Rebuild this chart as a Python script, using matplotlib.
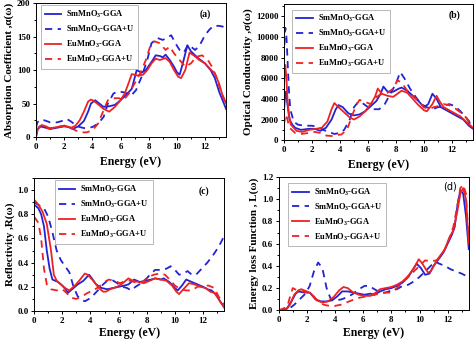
import numpy as np
import matplotlib
matplotlib.use("Agg")
import matplotlib.pyplot as plt
from matplotlib.ticker import MultipleLocator

plt.rcParams['font.family'] = ['Liberation Serif', 'DejaVu Serif']
plt.rcParams['font.weight'] = 'bold'
plt.rcParams['mathtext.default'] = 'regular'

BLUE = '#2222d6'
RED = '#ee2222'
labels = ['SmMnO$_3$-GGA', 'SmMnO$_3$-GGA+U', 'EuMnO$_3$-GGA', 'EuMnO$_3$-GGA+U']

# ---------------- (a) absorption coefficient ----------------
a_sm_x = [0, 0.1, 0.25, 0.5, 1.0, 1.5, 2.0, 2.3, 2.6, 3.0, 3.4, 3.7, 3.9, 4.2, 4.5, 4.8, 5.2, 5.6, 6.0, 6.4, 6.8, 7.0, 7.15, 7.5, 7.8, 8.2, 8.5, 8.8, 9.0, 9.2, 9.5, 9.8, 10.0, 10.2, 10.45, 10.75, 11.0, 11.5, 12.0, 12.4, 12.7, 13.0, 13.25, 13.5]
a_sm_y = [0, 10, 16, 15, 12, 14, 16, 15, 12, 16, 24, 38, 50, 55, 50, 45, 46, 48, 55, 63, 72, 88, 100, 96, 100, 112, 122, 121, 119, 123, 115, 105, 97, 93, 112, 137, 128, 118, 110, 100, 88, 68, 55, 42]
a_eu_x = [0, 0.1, 0.4, 0.7, 1.0, 1.5, 2.0, 2.2, 2.5, 2.8, 3.1, 3.4, 3.7, 3.9, 4.1, 4.4, 4.8, 5.2, 5.6, 6.0, 6.3, 6.6, 6.8, 7.2, 7.6, 7.9, 8.2, 8.5, 8.8, 9.2, 9.5, 9.8, 10.1, 10.3, 10.6, 10.9, 11.2, 11.6, 12.0, 12.4, 12.7, 13.0, 13.25, 13.5]
a_eu_y = [0, 12, 18, 16, 13, 15, 17, 16, 14, 17, 25, 38, 53, 56, 54, 49, 42, 38, 45, 55, 65, 82, 94, 92, 93, 100, 110, 117, 115, 118, 112, 100, 90, 88, 100, 126, 122, 115, 110, 101, 95, 80, 62, 50]
a_smu_x = [0, 0.1, 0.3, 0.6, 1.0, 1.5, 2.0, 2.2, 2.5, 2.8, 3.1, 3.5, 4.0, 4.4, 4.8, 5.1, 5.5, 5.8, 6.2, 6.5, 6.8, 7.1, 7.5, 7.9, 8.2, 8.6, 9.0, 9.3, 9.6, 9.9, 10.2, 10.5, 10.8, 11.0, 11.3, 11.6, 12.0, 12.3, 12.6, 13.0, 13.25, 13.5]
a_smu_y = [14, 22, 26, 25, 22, 22, 25, 27, 23, 18, 15, 13, 15, 20, 30, 50, 65, 68, 67, 65, 63, 70, 90, 115, 140, 148, 145, 148, 152, 140, 130, 126, 138, 135, 130, 136, 152, 160, 166, 166, 165, 162]
a_euu_x = [0, 0.1, 0.3, 0.6, 1.0, 1.5, 2.0, 2.4, 2.8, 3.2, 3.6, 4.0, 4.4, 4.8, 5.1, 5.5, 5.9, 6.2, 6.6, 7.0, 7.4, 7.8, 8.1, 8.4, 8.8, 9.2, 9.5, 9.8, 10.2, 10.6, 11.0, 11.4, 11.8, 12.2, 12.5, 12.8, 13.1, 13.5]
a_euu_y = [8, 12, 15, 14, 13, 15, 17, 15, 10, 7, 7, 10, 20, 40, 55, 58, 58, 55, 65, 80, 95, 115, 135, 143, 140, 130, 135, 125, 115, 105, 110, 120, 122, 115, 105, 90, 70, 50]

# ---------------- (b) optical conductivity ----------------
b_sm_x = [0, 0.08, 0.15, 0.25, 0.4, 0.6, 0.8, 1.2, 1.8, 2.2, 2.6, 3.0, 3.4, 3.7, 3.9, 4.2, 4.6, 5.0, 5.4, 5.8, 6.2, 6.6, 6.9, 7.1, 7.4, 7.8, 8.2, 8.4, 8.8, 9.2, 9.6, 10.0, 10.3, 10.6, 10.9, 11.2, 11.6, 12.0, 12.4, 12.8, 13.2, 13.5]
b_sm_y = [2800, 4200, 4700, 3500, 2000, 1500, 1200, 1000, 1100, 1100, 900, 1200, 2000, 3000, 3400, 3200, 2600, 2400, 2500, 2800, 3300, 3800, 4500, 5200, 4700, 4700, 5000, 5100, 4800, 4300, 3800, 3200, 3500, 4500, 4000, 3200, 2900, 2600, 2300, 2000, 1400, 1100]
b_eu_x = [0, 0.05, 0.1, 0.18, 0.25, 0.35, 0.5, 0.9, 1.3, 1.8, 2.3, 2.7, 3.1, 3.4, 3.6, 3.9, 4.3, 4.7, 5.0, 5.4, 5.8, 6.2, 6.5, 6.7, 7.0, 7.4, 7.8, 8.1, 8.4, 8.8, 9.2, 9.6, 10.0, 10.2, 10.6, 10.9, 11.1, 11.4, 11.8, 12.2, 12.6, 13.0, 13.5]
b_eu_y = [5000, 6800, 7300, 6000, 4000, 2500, 1500, 900, 800, 1000, 1100, 1200, 1800, 3000, 3600, 3200, 2700, 2200, 2000, 2300, 2800, 3500, 4200, 5000, 4500, 4300, 4200, 4500, 4800, 4600, 4000, 3400, 2900, 2800, 3500, 4300, 3800, 3200, 2900, 2600, 2300, 1800, 1200]
b_smu_x = [0, 0.05, 0.1, 0.18, 0.25, 0.35, 0.45, 0.7, 1.0, 1.5, 2.0, 2.4, 2.8, 3.2, 3.6, 4.0, 4.3, 4.7, 5.0, 5.3, 5.6, 6.0, 6.4, 6.8, 7.2, 7.6, 8.0, 8.3, 8.6, 9.0, 9.4, 9.8, 10.2, 10.6, 11.0, 11.4, 11.8, 12.2, 12.6, 13.0, 13.5]
b_smu_y = [8000, 10000, 10900, 10000, 8000, 5000, 3000, 1800, 1500, 1400, 1400, 1300, 1000, 800, 600, 700, 1000, 2000, 3200, 3700, 3600, 3200, 3000, 3000, 3500, 4500, 5500, 6600, 6000, 5000, 4200, 3500, 3200, 3000, 3200, 3300, 3500, 3300, 2800, 2200, 1200]
b_euu_x = [0, 0.08, 0.15, 0.25, 0.4, 0.8, 1.2, 1.8, 2.2, 2.6, 3.0, 3.4, 3.8, 4.1, 4.5, 4.9, 5.2, 5.4, 5.8, 6.2, 6.6, 7.0, 7.4, 7.8, 8.1, 8.4, 8.8, 9.2, 9.6, 10.0, 10.3, 10.7, 11.0, 11.4, 11.8, 12.2, 12.6, 13.0, 13.5]
b_euu_y = [1500, 2200, 2500, 2000, 1200, 700, 600, 700, 800, 700, 450, 400, 500, 550, 1000, 2500, 3500, 3900, 3700, 3500, 4200, 4500, 4600, 5000, 5800, 5600, 4800, 4300, 3800, 3200, 3000, 3200, 3300, 3500, 3400, 3100, 2700, 2200, 1400]

# ---------------- (c) reflectivity ----------------
c_sm_x = [0, 0.3, 0.5, 0.7, 0.9, 1.1, 1.3, 1.7, 2.0, 2.3, 2.4, 2.7, 3.1, 3.5, 3.9, 4.1, 4.4, 4.8, 5.2, 5.6, 6.0, 6.4, 6.7, 7.1, 7.5, 7.9, 8.3, 8.6, 9.0, 9.2, 9.6, 10.0, 10.2, 10.5, 10.8, 11.2, 11.6, 12.0, 12.3, 12.6, 12.9, 13.2, 13.5]
c_sm_y = [0.88, 0.85, 0.8, 0.7, 0.5, 0.35, 0.26, 0.24, 0.21, 0.17, 0.15, 0.18, 0.22, 0.25, 0.30, 0.27, 0.22, 0.19, 0.18, 0.19, 0.20, 0.21, 0.22, 0.26, 0.24, 0.25, 0.26, 0.27, 0.26, 0.27, 0.24, 0.19, 0.17, 0.21, 0.26, 0.24, 0.22, 0.20, 0.18, 0.17, 0.14, 0.08, 0.03]
c_eu_x = [0, 0.3, 0.6, 0.9, 1.2, 1.4, 1.6, 1.9, 2.2, 2.5, 2.9, 3.2, 3.6, 3.8, 4.2, 4.6, 4.9, 5.1, 5.4, 5.9, 6.3, 6.7, 7.0, 7.4, 7.8, 8.2, 8.6, 9.0, 9.4, 9.8, 10.1, 10.3, 10.6, 11.0, 11.4, 11.8, 12.2, 12.5, 12.8, 13.1, 13.5]
c_eu_y = [0.92, 0.88, 0.82, 0.72, 0.5, 0.3, 0.25, 0.22, 0.19, 0.17, 0.21, 0.25, 0.31, 0.30, 0.25, 0.19, 0.16, 0.16, 0.18, 0.20, 0.23, 0.27, 0.25, 0.24, 0.23, 0.25, 0.27, 0.26, 0.25, 0.21, 0.16, 0.14, 0.18, 0.23, 0.22, 0.20, 0.19, 0.16, 0.15, 0.10, 0.03]
c_smu_x = [0, 0.4, 0.7, 1.0, 1.3, 1.6, 1.9, 2.2, 2.5, 2.8, 3.1, 3.4, 3.6, 3.9, 4.2, 4.6, 4.9, 5.2, 5.5, 5.9, 6.3, 6.6, 6.9, 7.2, 7.6, 8.0, 8.3, 8.6, 9.0, 9.4, 9.7, 10.0, 10.3, 10.6, 10.9, 11.2, 11.5, 11.9, 12.3, 12.7, 13.1, 13.5]
c_smu_y = [0.90, 0.87, 0.85, 0.78, 0.65, 0.5, 0.42, 0.37, 0.32, 0.2, 0.12, 0.09, 0.08, 0.10, 0.13, 0.18, 0.22, 0.25, 0.26, 0.23, 0.20, 0.19, 0.17, 0.20, 0.23, 0.27, 0.31, 0.34, 0.34, 0.35, 0.37, 0.34, 0.30, 0.31, 0.33, 0.30, 0.30, 0.35, 0.40, 0.46, 0.53, 0.62]
c_euu_x = [0, 0.3, 0.5, 0.7, 0.9, 1.2, 1.6, 2.0, 2.3, 2.6, 3.0, 3.4, 3.8, 4.2, 4.6, 5.0, 5.3, 5.7, 6.1, 6.5, 6.9, 7.3, 7.7, 8.1, 8.5, 8.9, 9.3, 9.7, 10.0, 10.4, 10.8, 11.2, 11.6, 12.0, 12.4, 12.8, 13.1, 13.5]
c_euu_y = [0.78, 0.73, 0.6, 0.35, 0.22, 0.18, 0.17, 0.18, 0.15, 0.11, 0.10, 0.12, 0.15, 0.17, 0.20, 0.24, 0.26, 0.25, 0.23, 0.25, 0.25, 0.23, 0.24, 0.28, 0.30, 0.31, 0.30, 0.25, 0.21, 0.18, 0.17, 0.17, 0.20, 0.21, 0.21, 0.19, 0.12, 0.05]

# ---------------- (d) energy loss function ----------------
d_sm_x = [0, 0.4, 0.6, 0.9, 1.2, 1.4, 1.8, 2.2, 2.6, 3.0, 3.4, 3.8, 4.2, 4.5, 4.9, 5.3, 5.7, 6.1, 6.5, 6.8, 7.2, 7.6, 8.0, 8.4, 8.8, 9.2, 9.5, 9.8, 10.1, 10.4, 10.7, 11.0, 11.3, 11.7, 12.0, 12.3, 12.5, 12.7, 12.9, 13.1, 13.3, 13.5]
d_sm_y = [0, 0, 0.02, 0.08, 0.15, 0.17, 0.16, 0.16, 0.10, 0.08, 0.08, 0.09, 0.13, 0.17, 0.17, 0.16, 0.15, 0.14, 0.15, 0.14, 0.17, 0.19, 0.20, 0.22, 0.25, 0.30, 0.36, 0.42, 0.38, 0.32, 0.33, 0.40, 0.45, 0.52, 0.60, 0.68, 0.75, 0.95, 1.08, 1.05, 0.85, 0.55]
d_eu_x = [0, 0.5, 0.8, 1.1, 1.4, 1.6, 2.0, 2.3, 2.7, 3.1, 3.5, 3.9, 4.3, 4.6, 4.9, 5.3, 5.7, 6.1, 6.5, 6.9, 7.2, 7.6, 8.0, 8.4, 8.8, 9.2, 9.6, 9.95, 10.2, 10.6, 10.8, 11.1, 11.4, 11.8, 12.1, 12.4, 12.7, 12.9, 13.1, 13.3, 13.5]
d_eu_y = [0, 0, 0.05, 0.14, 0.18, 0.19, 0.17, 0.15, 0.09, 0.07, 0.08, 0.12, 0.18, 0.21, 0.20, 0.16, 0.14, 0.13, 0.13, 0.16, 0.19, 0.20, 0.21, 0.23, 0.26, 0.31, 0.38, 0.46, 0.42, 0.34, 0.35, 0.42, 0.48, 0.55, 0.65, 0.72, 0.90, 1.05, 1.10, 1.00, 0.60]
d_smu_x = [0, 0.5, 0.8, 1.1, 1.5, 1.9, 2.2, 2.5, 2.8, 3.1, 3.4, 3.7, 4.1, 4.5, 4.9, 5.3, 5.7, 6.1, 6.4, 6.8, 7.2, 7.6, 8.0, 8.4, 8.8, 9.2, 9.6, 10.0, 10.4, 10.8, 11.1, 11.4, 11.8, 12.2, 12.6, 13.0, 13.3, 13.5]
d_smu_y = [0, 0, 0.02, 0.05, 0.10, 0.15, 0.22, 0.35, 0.43, 0.38, 0.20, 0.10, 0.09, 0.10, 0.12, 0.15, 0.19, 0.22, 0.22, 0.19, 0.16, 0.16, 0.18, 0.19, 0.22, 0.23, 0.26, 0.30, 0.35, 0.40, 0.44, 0.42, 0.40, 0.37, 0.35, 0.33, 0.31, 0.30]
d_euu_x = [0, 0.6, 0.8, 1.0, 1.3, 1.7, 2.1, 2.4, 2.8, 3.2, 3.6, 4.0, 4.4, 4.8, 5.2, 5.6, 6.0, 6.4, 6.8, 7.2, 7.6, 8.0, 8.4, 8.8, 9.2, 9.6, 10.0, 10.4, 10.8, 11.2, 11.6, 12.0, 12.4, 12.7, 12.9, 13.1, 13.3, 13.5]
d_euu_y = [0, 0.03, 0.12, 0.20, 0.18, 0.17, 0.16, 0.14, 0.08, 0.05, 0.04, 0.04, 0.05, 0.07, 0.09, 0.11, 0.12, 0.13, 0.14, 0.15, 0.16, 0.16, 0.20, 0.25, 0.30, 0.35, 0.40, 0.45, 0.44, 0.45, 0.50, 0.60, 0.75, 0.95, 1.10, 1.13, 1.05, 0.60]

panels = [
    dict(pos=[0.076, 0.598, 0.401, 0.393], ylim=(0, 200), ymaj=50, ymin=25,
         ylabel='Absorption Coefficient ,α(ω)', tag='(a)', tagxy=(0.89, 0.92),
         leg=(0.025, 0.985), xpad=4,
         data=[(a_sm_x, a_sm_y), (a_smu_x, a_smu_y), (a_eu_x, a_eu_y), (a_euu_x, a_euu_y)]),
    dict(pos=[0.599, 0.589, 0.399, 0.399], ylim=(0, 13200), ymaj=2000, ymin=1000,
         ylabel='Optical Conductivity ,σ(ω)', tag='(b)', tagxy=(0.9, 0.92),
         leg=(0.045, 0.96), xpad=4,
         data=[(b_sm_x, b_sm_y), (b_smu_x, b_smu_y), (b_eu_x, b_eu_y), (b_euu_x, b_euu_y)]),
    dict(pos=[0.072, 0.088, 0.401, 0.390], ylim=(0, 1.1), ymaj=0.2, ymin=0.1,
         ylabel='Reflectivity ,R(ω)', tag='(c)', tagxy=(0.895, 0.9),
         leg=(0.11, 0.985), xpad=2,
         data=[(c_sm_x, c_sm_y), (c_smu_x, c_smu_y), (c_eu_x, c_eu_y), (c_euu_x, c_euu_y)]),
    dict(pos=[0.588, 0.090, 0.401, 0.391], ylim=(0, 1.2), ymaj=0.2, ymin=0.1,
         ylabel='Energy loss Function , L(ω)', tag='(d)', tagxy=(0.9, 0.93),
         leg=(0.05, 0.957), xpad=2,
         data=[(d_sm_x, d_sm_y), (d_smu_x, d_smu_y), (d_eu_x, d_eu_y), (d_euu_x, d_euu_y)]),
]

styles = [(BLUE, '-'), (BLUE, (0, (4, 3))), (RED, '-'), (RED, (0, (4, 3)))]

fig = plt.figure(figsize=(4.74, 3.41), dpi=100)
for p in panels:
    ax = fig.add_axes(p['pos'])
    for (x, y), (c, ls), lab in zip(p['data'], styles, labels):
        ax.plot(x, y, color=c, ls=ls, lw=1.3, label=lab)
    ax.set_xlim(0, 13.5)
    ax.set_ylim(*p['ylim'])
    ax.xaxis.set_major_locator(MultipleLocator(2))
    ax.xaxis.set_minor_locator(MultipleLocator(1))
    ax.yaxis.set_major_locator(MultipleLocator(p['ymaj']))
    ax.yaxis.set_minor_locator(MultipleLocator(p['ymin']))
    ax.tick_params(which='both', direction='out', labelsize=6.5, pad=1.5, width=0.7)
    ax.tick_params(which='major', length=2.5)
    ax.tick_params(which='minor', length=1.5)
    for t in ax.get_xticklabels() + ax.get_yticklabels():
        t.set_fontweight('bold')
    for s in ax.spines.values():
        s.set_linewidth(0.7)
    ax.set_xlabel('Energy (eV)', fontsize=8.5, fontweight='bold', labelpad=p['xpad'])
    ax.set_ylabel(p['ylabel'], fontsize=8, fontweight='bold', labelpad=2)
    if p['tag'] == '(d)':
        ax.text(*p['tagxy'], p['tag'], transform=ax.transAxes, fontsize=7,
                family=['DejaVu Sans'], fontweight='normal', ha='center', va='center')
    else:
        ax.text(*p['tagxy'], p['tag'], transform=ax.transAxes, fontsize=7,
                fontweight='bold', ha='center', va='center')
    leg = ax.legend(loc='upper left', bbox_to_anchor=p['leg'],
                    prop={'weight': 'bold', 'size': 6}, frameon=True, fancybox=False,
                    handlelength=2.0, handletextpad=0.6, labelspacing=0.45,
                    borderpad=0.45, borderaxespad=0)
    leg.get_frame().set_edgecolor('#999999')
    leg.get_frame().set_linewidth(0.6)

fig.savefig('out.png', dpi=100)
